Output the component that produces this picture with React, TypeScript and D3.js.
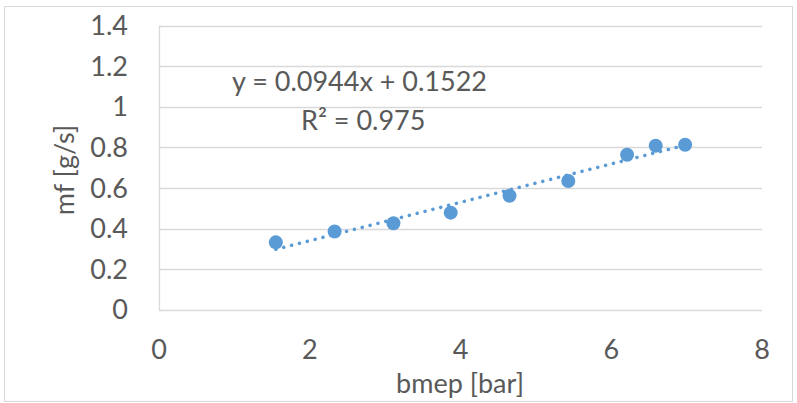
import React, { useEffect, useRef } from "react";
import * as d3 from "d3";

const bmep = [1.55, 2.33, 3.11, 3.87, 4.65, 5.43, 6.21, 6.59, 6.98];
const mf = [0.333, 0.386, 0.427, 0.479, 0.562, 0.635, 0.764, 0.808, 0.813];
const xTicks = [0, 2, 4, 6, 8];
const yTicks = [0, 0.2, 0.4, 0.6, 0.8, 1, 1.2, 1.4];
const slope = 0.0944;
const intercept = 0.1522;
const eqLabel = "y = 0.0944x + 0.1522";
const r2Label = "R² = 0.975";

const W = 797;
const H = 403;
const FONT = "Lato, 'Open Sans', sans-serif";
const FS = 27;
const TEXT = "#595959";
const BLUE = "#5B9BD5";

const App = () => {
  const ref = useRef<SVGSVGElement>(null);

  useEffect(() => {
    const svg = d3.select(ref.current);
    svg.selectAll("*").remove();

    const x = d3.scaleLinear().domain([0, 8]).range([159, 762]);
    const y = d3.scaleLinear().domain([0, 1.4]).range([310, 25.5]);

    // chart frame
    svg
      .append("rect")
      .attr("x", 4.5)
      .attr("y", 6.5)
      .attr("width", 788)
      .attr("height", 395)
      .attr("fill", "#fff")
      .attr("stroke", "#D9D9D9");

    // gridlines
    svg
      .selectAll("line.grid")
      .data(yTicks)
      .enter()
      .append("line")
      .attr("x1", x(0))
      .attr("x2", x(8))
      .attr("y1", (d) => Math.round(y(d)) + 0.5)
      .attr("y2", (d) => Math.round(y(d)) + 0.5)
      .attr("stroke", "#D9D9D9")
      .attr("stroke-width", 1.3);

    svg
      .append("line")
      .attr("x1", x(0) + 0.5)
      .attr("x2", x(0) + 0.5)
      .attr("y1", y(1.4))
      .attr("y2", y(0))
      .attr("stroke", "#D9D9D9")
      .attr("stroke-width", 1.3);

    const label = (sel: any) =>
      sel.attr("font-family", FONT).attr("font-size", FS).attr("fill", TEXT);

    // tick labels
    svg
      .selectAll("text.yt")
      .data(yTicks)
      .enter()
      .append("text")
      .attr("x", 128)
      .attr("y", (d) => y(d))
      .attr("dy", "0.35em")
      .attr("text-anchor", "end")
      .call(label)
      .text((d) => d3.format("~g")(d));

    svg
      .selectAll("text.xt")
      .data(xTicks)
      .enter()
      .append("text")
      .attr("x", (d) => x(d))
      .attr("y", 359)
      .attr("text-anchor", "middle")
      .call(label)
      .text((d) => d);

    // axis titles
    svg
      .append("text")
      .attr("x", 460)
      .attr("y", 393)
      .attr("text-anchor", "middle")
      .call(label)
      .text("bmep [bar]");

    svg
      .append("text")
      .attr("transform", "translate(74,170) rotate(-90)")
      .attr("text-anchor", "middle")
      .call(label)
      .text("mf [g/s]");

    // trendline
    const x0 = d3.min(bmep) as number;
    const x1 = d3.max(bmep) as number;
    svg
      .append("line")
      .attr("x1", x(x0))
      .attr("y1", y(slope * x0 + intercept))
      .attr("x2", x(x1))
      .attr("y2", y(slope * x1 + intercept))
      .attr("stroke", BLUE)
      .attr("stroke-width", 3.5)
      .attr("stroke-linecap", "round")
      .attr("stroke-dasharray", "0.1 8");

    // points
    svg
      .selectAll("circle")
      .data(bmep.map((v, i) => [v, mf[i]]))
      .enter()
      .append("circle")
      .attr("cx", (d) => x(d[0]))
      .attr("cy", (d) => y(d[1]))
      .attr("r", 7)
      .attr("fill", BLUE);

    // equation labels
    svg
      .append("text")
      .attr("x", 232)
      .attr("y", 91)
      .call(label)
      .text(eqLabel);

    svg
      .append("text")
      .attr("x", 301)
      .attr("y", 130)
      .call(label)
      .text(r2Label);
  }, []);

  return (
    <svg
      ref={ref}
      width={W}
      height={H}
      style={{ position: "absolute", left: 0, top: 0, display: "block" }}
    />
  );
};

export default App;
